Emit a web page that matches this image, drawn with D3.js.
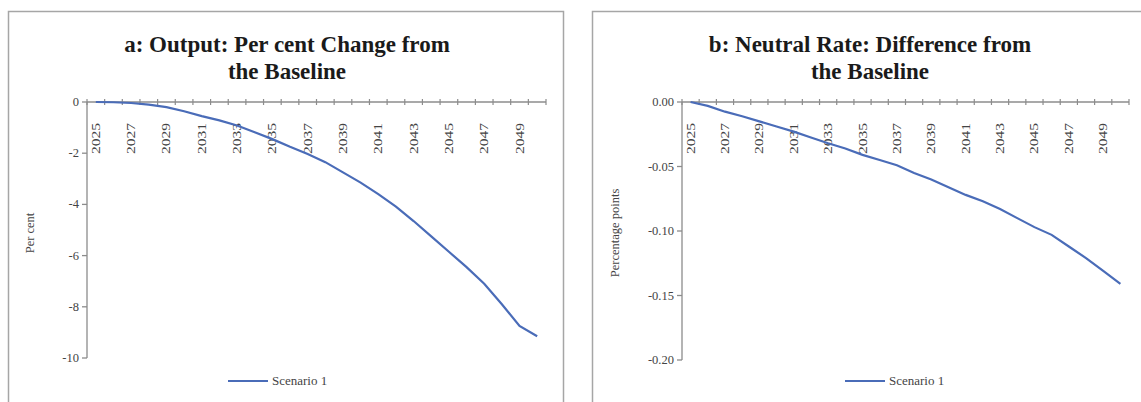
<!DOCTYPE html>
<html>
<head>
<meta charset="utf-8">
<script src="https://cdn.jsdelivr.net/npm/d3@7"></script>
<style>
  body { margin: 0; background: #fff; }
  svg { display: block; }
  .title { font-family: "Liberation Serif", "DejaVu Serif", serif; font-weight: bold; font-size: 23px; fill: #1a1a1a; }
  .tick-label { font-family: "Liberation Serif", serif; font-size: 12.5px; fill: #444; }
  .axis-title { font-family: "Liberation Serif", serif; font-size: 12.5px; fill: #444; }
  .legend-text { font-family: "Liberation Serif", serif; font-size: 13px; fill: #444; }
</style>
</head>
<body>
<div id="chart"></div>
<script>
// categories
var years = [2025, 2026, 2027, 2028, 2029, 2030, 2031, 2032, 2033, 2034, 2035, 2036, 2037,
             2038, 2039, 2040, 2041, 2042, 2043, 2044, 2045, 2046, 2047, 2048, 2049, 2050];
var yearLabels = [2025, 2027, 2029, 2031, 2033, 2035, 2037, 2039, 2041, 2043, 2045, 2047, 2049];

// panel a: output, per cent change from baseline
var outputChange = [0, -0.01, -0.04, -0.1, -0.2, -0.36, -0.55, -0.72, -0.92, -1.18, -1.45, -1.75, -2.03,
                    -2.35, -2.75, -3.15, -3.6, -4.09, -4.65, -5.25, -5.85, -6.45, -7.1, -7.9, -8.75, -9.15];
var outputTicks = [0, -2, -4, -6, -8, -10];

// panel b: neutral rate, difference from baseline (percentage points)
var neutralRateDiff = [0, -0.003, -0.0075, -0.011, -0.015, -0.019, -0.023, -0.0275, -0.032, -0.036, -0.041, -0.045, -0.049,
                       -0.055, -0.06, -0.066, -0.072, -0.077, -0.083, -0.09, -0.097, -0.103, -0.112, -0.121, -0.131, -0.141];
var rateTicks = [0, -0.05, -0.10, -0.15, -0.20];

var seriesName = "Scenario 1";

var svg = d3.select("#chart")
  .append("svg")
    .attr("width", 1141)
    .attr("height", 402);

// plain hyphen for negatives, like the original
var hyphen = function (f) { return function (d) { return f(d).replace("\u2212", "-"); }; };

function drawPanel(opt) {
  var g = svg.append("g")
    .attr("transform", "translate(" + opt.left + "," + opt.top + ")");

  // frame
  g.append("rect")
    .attr("x", 0.5).attr("y", 0.5)
    .attr("width", opt.w).attr("height", opt.h)
    .attr("fill", "#fff")
    .attr("stroke", "#a6a6a6")
    .attr("stroke-width", 1.5);

  // title, two lines
  var title = g.append("text")
    .attr("class", "title")
    .attr("text-anchor", "middle");
  title.append("tspan").attr("x", opt.titleX).attr("y", 41).text(opt.title[0]);
  title.append("tspan").attr("x", opt.titleX).attr("y", 68).text(opt.title[1]);

  var x = d3.scaleBand()
    .domain(years)
    .range(opt.xRange);

  var y = d3.scaleLinear()
    .domain([opt.yTicks[opt.yTicks.length - 1], 0])
    .range(opt.yRange);

  var y0 = y(0);

  // y axis
  g.append("line")
    .attr("x1", opt.xRange[0]).attr("x2", opt.xRange[0])
    .attr("y1", y.range()[0]).attr("y2", y.range()[1])
    .attr("stroke", "#8c8c8c").attr("stroke-width", 1.3);

  g.selectAll(".ytick")
    .data(opt.yTicks)
    .enter()
    .append("line")
      .attr("x1", opt.xRange[0] - 5).attr("x2", opt.xRange[0])
      .attr("y1", function (d) { return y(d); })
      .attr("y2", function (d) { return y(d); })
      .attr("stroke", "#8c8c8c").attr("stroke-width", 1.3);

  g.selectAll(".ylab")
    .data(opt.yTicks)
    .enter()
    .append("text")
      .attr("class", "tick-label")
      .attr("text-anchor", "end")
      .attr("x", opt.xRange[0] - 8)
      .attr("y", function (d) { return y(d) + 4; })
      .text(function (d) { return opt.fmt(d); });

  g.append("text")
    .attr("class", "axis-title")
    .attr("text-anchor", "middle")
    .attr("transform", "translate(" + opt.yTitleX + "," + opt.yTitleY + ") rotate(-90)")
    .text(opt.yTitle);

  // x axis along zero line
  g.append("line")
    .attr("x1", opt.xRange[0]).attr("x2", opt.xRange[1])
    .attr("y1", y0).attr("y2", y0)
    .attr("stroke", "#8c8c8c").attr("stroke-width", 1.3);

  var bounds = years.map(function (d) { return x(d); }).concat([opt.xRange[1]]);
  g.selectAll(".xtick")
    .data(bounds)
    .enter()
    .append("line")
      .attr("x1", function (d) { return d; })
      .attr("x2", function (d) { return d; })
      .attr("y1", y0 - 3).attr("y2", y0 + 3)
      .attr("stroke", "#8c8c8c").attr("stroke-width", 1.2);

  g.selectAll(".xlab")
    .data(yearLabels)
    .enter()
    .append("text")
      .attr("class", "tick-label")
      .attr("text-anchor", "start")
      .attr("textLength", 31)
      .attr("lengthAdjust", "spacingAndGlyphs")
      .attr("transform", function (d) {
        return "translate(" + (x(d) + x.bandwidth() / 2 + 4) + "," + (y0 + 52) + ") rotate(-90)";
      })
      .text(function (d) { return d; });

  // series line
  var line = d3.line()
    .x(function (d, i) { return x(years[i]) + x.bandwidth() / 2; })
    .y(function (d) { return y(d); });

  g.append("path")
    .datum(opt.values)
    .attr("d", line)
    .attr("fill", "none")
    .attr("stroke", "#4a6cb8")
    .attr("stroke-width", 2.2);

  // legend
  g.append("line")
    .attr("x1", opt.legendX).attr("x2", opt.legendX + 40)
    .attr("y1", 370).attr("y2", 370)
    .attr("stroke", "#4a6cb8").attr("stroke-width", 2.2);
  g.append("text")
    .attr("class", "legend-text")
    .attr("x", opt.legendX + 44)
    .attr("y", 374)
    .text(seriesName);
}

drawPanel({
  left: 8, top: 11, w: 555, h: 400,
  title: ["a: Output: Per cent Change from", "the Baseline"],
  titleX: 279,
  xRange: [79, 538],
  yRange: [347, 91],
  yTicks: outputTicks,
  fmt: hyphen(d3.format("d")),
  yTitle: "Per cent",
  yTitleX: 26, yTitleY: 222,
  values: outputChange,
  legendX: 220
});

drawPanel({
  left: 592, top: 11, w: 560, h: 400,
  title: ["b: Neutral Rate: Difference from", "the Baseline"],
  titleX: 278,
  xRange: [90, 537],
  yRange: [349, 91],
  yTicks: rateTicks,
  fmt: hyphen(d3.format(".2f")),
  yTitle: "Percentage points",
  yTitleX: 27, yTitleY: 222,
  values: neutralRateDiff,
  legendX: 253
});
</script>
</body>
</html>
